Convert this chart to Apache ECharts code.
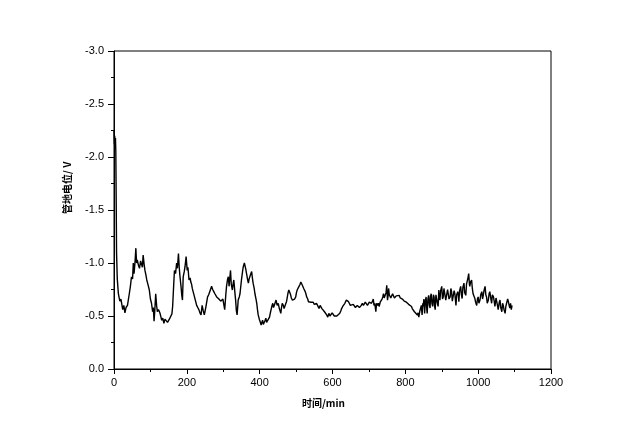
<!DOCTYPE html>
<html>
<head>
<meta charset="utf-8">
<script src="https://cdn.jsdelivr.net/npm/echarts@6/dist/echarts.min.js"></script>
<style>html,body{margin:0;padding:0;background:#fff;}#c{width:640px;height:443px;}</style>
</head>
<body>
<div id="c"></div>
<script>
var xTitle = '时间/min';
var yTitle = '管地电位/ V';
var xTicks = [0, 200, 400, 600, 800, 1000, 1200];
var yTicks = [0.0, -0.5, -1.0, -1.5, -2.0, -2.5, -3.0];

var times = [0,1,2,3,4,5,6,7,9,12,16,19,21,24,27,30,33,37,42,45,48,51,53,55,58,60,62,64,67,70,73,76,78,80,83,85,88,90,93,97,100,103,106,108,110,112,114.5,117,119,122,126,129,131,134,137,140,145,147,149,152,156,159,161,164,166,169,172,174,177,179,181,184,186,188,190,193,195,198,201,203,206,209,211,213,215,218,221,224,227,230,233,236,239,242,245,248,252,255,257,260,263,266,268,271,274,277,279,282,285,288,290,293,296,299,301,304,307,309,312,314,316,318,320,322,325,327,329,332,334,336,338,340,341,344,346,350,353,355,358,360,362,364,367,369,371,373,376,378,380,382,385,387,390,392,394,396,399,401,404,406,408,410,412,415,417,419,421,424,427,430,432,434,436,438,440,443,445,448,451,454,456,458,460,462,465,467,469,471,474,476,478,480,483,485,487,490,492,494,496,499,501,503,506,508,511,513,516,518,521,523,525,527,529,532,534,536,538,541,544,547,550,553,556,559,563,566,568,571,575,578,581,584,587,590,593,596,599,602,605,609,612,614,617,620,623,625,628,631,634,636,638,640,642,644,647,649,652,654,657,660,663,665,668,671,674,676,679,682,685,687,690,693,696,698,701,704,707,710,712,714,716,719,721,723,726,728,731,734,736,738,740,742,745,747,749,751,753,754,756,758,760,762,765,767,770,772,775,778,780,783,786,789,792,794,797,800,803,806,809,811,814,817,819,822,825,828,830,833,835,837,840,842,844,846,848,849,851,853,855,857,859,860,862,864,866,868,869,871,873,875,877,879,880,882,884,886,888,890,892,893,895,897,900,902,904,906,909,911,913,916,918,920,923,925,927,929,932,934,936,939,941,944,946,947,949,952,954,956,958,961,963,966,968,970,972,974,976,977,979,982,984,986,988,991,993,996,998,1000,1002,1005,1007,1010,1012,1014,1016,1019,1021,1023,1025,1028,1030,1032,1035,1037,1039,1042,1044,1046,1049,1051,1053,1055,1058,1060,1062,1065,1067,1069,1071,1074,1076,1078,1081,1083,1085,1087,1089,1091,1093];

var potential = [-2.25,-2.12,-2.20,-2.10,-2.18,-2.05,-1.6,-1.1,-0.85,-0.71,-0.64,-0.66,-0.65,-0.56,-0.60,-0.53,-0.58,-0.60,-0.71,-0.78,-0.87,-0.85,-1.0,-0.9,-1.02,-1.14,-1.0,-1.03,-0.98,-0.95,-1.02,-1.01,-0.96,-1.075,-0.98,-0.93,-0.88,-0.84,-0.80,-0.745,-0.66,-0.62,-0.54,-0.58,-0.45,-0.55,-0.71,-0.60,-0.54,-0.56,-0.53,-0.49,-0.46,-0.48,-0.43,-0.47,-0.47,-0.44,-0.43,-0.47,-0.48,-0.52,-0.59,-0.80,-0.93,-0.90,-1.0,-0.95,-1.09,-0.965,-0.88,-0.78,-0.70,-0.65,-0.87,-0.92,-0.965,-1.06,-0.93,-0.96,-0.84,-0.86,-0.82,-0.80,-0.76,-0.72,-0.68,-0.64,-0.60,-0.58,-0.56,-0.53,-0.51,-0.60,-0.55,-0.51,-0.58,-0.64,-0.68,-0.70,-0.71,-0.76,-0.78,-0.75,-0.73,-0.71,-0.70,-0.68,-0.665,-0.66,-0.65,-0.64,-0.635,-0.66,-0.65,-0.56,-0.70,-0.78,-0.85,-0.87,-0.78,-0.86,-0.93,-0.80,-0.745,-0.80,-0.84,-0.72,-0.65,-0.55,-0.51,-0.60,-0.65,-0.68,-0.71,-0.84,-0.92,-0.965,-1.0,-0.99,-0.94,-0.90,-0.84,-0.81,-0.85,-0.87,-0.90,-0.92,-0.86,-0.81,-0.76,-0.71,-0.66,-0.62,-0.56,-0.51,-0.47,-0.45,-0.415,-0.44,-0.46,-0.42,-0.43,-0.46,-0.48,-0.44,-0.43,-0.47,-0.49,-0.54,-0.57,-0.60,-0.62,-0.58,-0.60,-0.63,-0.65,-0.60,-0.62,-0.57,-0.55,-0.525,-0.58,-0.62,-0.60,-0.57,-0.59,-0.60,-0.64,-0.68,-0.72,-0.745,-0.72,-0.70,-0.67,-0.65,-0.64,-0.635,-0.66,-0.68,-0.72,-0.745,-0.76,-0.78,-0.80,-0.82,-0.80,-0.79,-0.76,-0.745,-0.73,-0.71,-0.68,-0.66,-0.635,-0.64,-0.65,-0.63,-0.62,-0.63,-0.61,-0.60,-0.62,-0.60,-0.57,-0.60,-0.59,-0.57,-0.56,-0.54,-0.525,-0.51,-0.49,-0.525,-0.50,-0.51,-0.53,-0.525,-0.50,-0.51,-0.50,-0.49,-0.51,-0.525,-0.55,-0.57,-0.59,-0.60,-0.62,-0.635,-0.65,-0.665,-0.64,-0.635,-0.62,-0.60,-0.61,-0.59,-0.61,-0.60,-0.58,-0.57,-0.60,-0.59,-0.58,-0.57,-0.60,-0.62,-0.60,-0.61,-0.63,-0.62,-0.60,-0.61,-0.63,-0.635,-0.62,-0.64,-0.66,-0.60,-0.62,-0.54,-0.62,-0.60,-0.62,-0.59,-0.63,-0.62,-0.66,-0.68,-0.71,-0.67,-0.68,-0.72,-0.79,-0.65,-0.70,-0.76,-0.70,-0.695,-0.67,-0.68,-0.71,-0.695,-0.67,-0.665,-0.69,-0.68,-0.70,-0.695,-0.67,-0.68,-0.66,-0.665,-0.64,-0.65,-0.63,-0.635,-0.61,-0.62,-0.60,-0.59,-0.57,-0.56,-0.54,-0.525,-0.55,-0.51,-0.53,-0.49,-0.55,-0.54,-0.60,-0.51,-0.62,-0.59,-0.66,-0.525,-0.64,-0.68,-0.56,-0.525,-0.66,-0.695,-0.60,-0.575,-0.68,-0.71,-0.62,-0.59,-0.70,-0.68,-0.60,-0.56,-0.70,-0.71,-0.62,-0.59,-0.745,-0.68,-0.65,-0.74,-0.78,-0.66,-0.68,-0.76,-0.745,-0.65,-0.665,-0.75,-0.745,-0.66,-0.68,-0.76,-0.73,-0.64,-0.65,-0.74,-0.71,-0.60,-0.70,-0.73,-0.68,-0.635,-0.74,-0.78,-0.70,-0.665,-0.77,-0.81,-0.72,-0.695,-0.80,-0.79,-0.86,-0.90,-0.80,-0.78,-0.82,-0.84,-0.76,-0.71,-0.70,-0.665,-0.63,-0.60,-0.66,-0.68,-0.62,-0.65,-0.70,-0.73,-0.66,-0.695,-0.74,-0.78,-0.70,-0.68,-0.62,-0.65,-0.71,-0.73,-0.66,-0.62,-0.70,-0.68,-0.64,-0.59,-0.67,-0.665,-0.60,-0.56,-0.63,-0.65,-0.58,-0.54,-0.62,-0.60,-0.56,-0.525,-0.59,-0.62,-0.66,-0.635,-0.60,-0.575,-0.62,-0.56,-0.60];

var seriesData = times.map(function (t, i) { return [t, potential[i]]; });

var chart = echarts.init(document.getElementById('c'), null, {renderer: 'canvas'});
var labelFont = {color: '#000', fontSize: 11, fontFamily: 'Liberation Sans, Arial, sans-serif'};
chart.setOption({
  animation: false,
  backgroundColor: '#fff',
  grid: {left: 114, right: 89, top: 51, bottom: 74, show: true, borderColor: '#000', borderWidth: 1},
  xAxis: {
    type: 'value', min: xTicks[0], max: xTicks[xTicks.length - 1], interval: 200,
    axisLine: {show: true, onZero: false, lineStyle: {color: '#000', width: 1}},
    axisTick: {show: true, inside: false, length: 5, lineStyle: {color: '#000'}},
    minorTick: {show: true, splitNumber: 2, length: 3, lineStyle: {color: '#000'}},
    splitLine: {show: false},
    axisLabel: Object.assign({margin: 8, formatter: function (v) { return String(v); }}, labelFont)
  },
  yAxis: {
    type: 'value', inverse: true, min: yTicks[yTicks.length - 1], max: yTicks[0], interval: 0.5,
    axisLine: {show: true, onZero: false, lineStyle: {color: '#000', width: 1}},
    axisTick: {show: true, inside: false, length: 6, lineStyle: {color: '#000'}},
    minorTick: {show: true, splitNumber: 2, length: 3, lineStyle: {color: '#000'}},
    splitLine: {show: false},
    axisLabel: Object.assign({margin: 10, formatter: function (v) { return (Math.abs(v) < 1e-9 ? 0 : v).toFixed(1); }}, labelFont)
  },
  graphic: [
    {type: 'text', left: 302, top: 398, style: {text: xTitle, fill: '#000', font: 'bold 10px "Noto Sans CJK SC", sans-serif'}},
    {type: 'text', x: 62, y: 214, rotation: Math.PI / 2, style: {text: yTitle, fill: '#000', font: 'bold 10px "Noto Sans CJK SC", sans-serif'}}
  ],
  series: [{
    type: 'line', data: seriesData, showSymbol: false, symbol: 'none',
    lineStyle: {color: '#000', width: 1.4}, silent: true
  }]
});
</script>
</body>
</html>
